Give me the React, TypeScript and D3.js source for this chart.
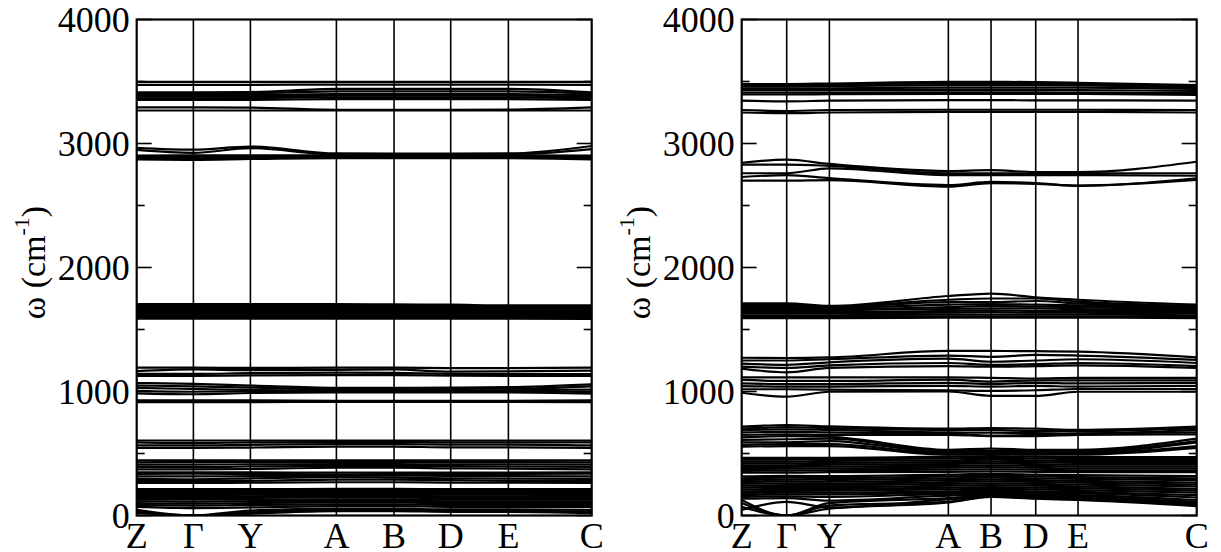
import React from "react";
import * as d3 from "d3";

// High-symmetry labels along the Brillouin-zone path
const kLabels = ["Z", "Γ", "Y", "A", "B", "D", "E", "C"];
// Cumulative path length (normalised) of each high-symmetry point
const leftPath = [0, 0.1246, 0.2499, 0.4389, 0.5656, 0.6901, 0.8169, 1];
const rightPath = [0, 0.0989, 0.1927, 0.4542, 0.548, 0.6462, 0.7392, 1];

const yMajor = [0, 1000, 2000, 3000, 4000];
const yMinor = [500, 1500, 2500, 3500];

// Phonon branches (cm^-1) sampled at Z, Γ, Y, A, B, D, E, C — left structure
const leftBands: number[][] = [
  [3497, 3497, 3497, 3497, 3497, 3497, 3497, 3497],
  [3473, 3473, 3473, 3475, 3475, 3475, 3475, 3473],
  [3412, 3412, 3415, 3440, 3440, 3440, 3440, 3412],
  [3402, 3402, 3405, 3420, 3420, 3420, 3420, 3402],
  [3390, 3390, 3392, 3398, 3398, 3398, 3398, 3390],
  [3378, 3378, 3380, 3385, 3385, 3385, 3385, 3378],
  [3365, 3365, 3366, 3372, 3372, 3372, 3372, 3365],
  [3352, 3352, 3352, 3358, 3358, 3358, 3358, 3352],
  [3292, 3292, 3290, 3272, 3272, 3272, 3274, 3292],
  [3266, 3266, 3266, 3266, 3266, 3266, 3266, 3266],

  [2965, 2950, 2975, 2920, 2918, 2918, 2920, 2980],
  [2948, 2925, 2962, 2912, 2912, 2912, 2912, 2955],
  [2902, 2905, 2905, 2905, 2906, 2906, 2905, 2902],
  [2892, 2890, 2895, 2898, 2898, 2898, 2898, 2893],
  [2882, 2878, 2885, 2890, 2890, 2890, 2890, 2883],
  [2872, 2868, 2875, 2882, 2882, 2882, 2882, 2872],

  [1705, 1705, 1705, 1705, 1702, 1700, 1695, 1695],
  [1695, 1695, 1695, 1697, 1695, 1692, 1685, 1688],
  [1685, 1685, 1685, 1688, 1686, 1684, 1672, 1675],
  [1672, 1672, 1672, 1675, 1673, 1672, 1665, 1665],
  [1660, 1660, 1660, 1662, 1660, 1660, 1655, 1650],
  [1648, 1648, 1648, 1650, 1648, 1648, 1645, 1640],
  [1636, 1636, 1636, 1638, 1636, 1636, 1634, 1630],
  [1624, 1624, 1624, 1625, 1624, 1624, 1622, 1618],
  [1612, 1612, 1612, 1612, 1612, 1612, 1610, 1605],
  [1600, 1600, 1600, 1600, 1600, 1600, 1598, 1595],
  [1588, 1588, 1588, 1588, 1588, 1588, 1588, 1585],

  [1192, 1192, 1190, 1192, 1192, 1188, 1188, 1192],
  [1165, 1178, 1172, 1175, 1178, 1160, 1162, 1168],
  [1142, 1142, 1148, 1152, 1150, 1142, 1140, 1140],
  [1126, 1126, 1130, 1132, 1132, 1128, 1126, 1126],

  [1068, 1062, 1048, 1030, 1030, 1032, 1035, 1058],
  [1048, 1042, 1032, 1018, 1018, 1020, 1022, 1042],
  [1030, 1020, 1012, 1008, 1008, 1008, 1010, 1015],
  [1005, 998, 1002, 1002, 1002, 1002, 1002, 995],
  [985, 978, 988, 992, 992, 992, 992, 982],
  [928, 928, 928, 925, 925, 925, 925, 928],
  [914, 914, 914, 917, 917, 917, 917, 914],

  [605, 605, 605, 605, 605, 605, 605, 605],
  [590, 585, 590, 592, 592, 590, 590, 590],
  [565, 565, 570, 575, 575, 572, 572, 565],
  [545, 545, 548, 555, 555, 550, 550, 545],

  [445, 445, 445, 445, 445, 445, 445, 445],
  [428, 430, 430, 432, 432, 430, 430, 428],
  [410, 410, 412, 415, 415, 412, 412, 410],
  [392, 390, 395, 400, 400, 398, 395, 392],
  [372, 372, 375, 385, 385, 380, 378, 372],

  [348, 348, 348, 345, 345, 345, 345, 348],
  [335, 338, 335, 330, 335, 335, 335, 338],
  [315, 315, 318, 320, 322, 320, 318, 315],
  [295, 292, 300, 310, 305, 300, 298, 295],
  [278, 280, 280, 290, 290, 285, 280, 278],
  [262, 262, 265, 268, 268, 265, 265, 262],

  [212, 212, 212, 215, 215, 212, 212, 212],
  [200, 200, 202, 205, 205, 202, 202, 200],
  [190, 190, 192, 195, 195, 192, 192, 190],
  [178, 178, 180, 182, 182, 180, 180, 178],
  [165, 165, 168, 170, 170, 168, 168, 165],
  [155, 152, 155, 158, 158, 155, 155, 155],
  [140, 140, 142, 145, 145, 140, 140, 140],
  [128, 130, 128, 130, 130, 128, 128, 128],
  [115, 112, 115, 118, 118, 115, 115, 115],
  [100, 95, 100, 105, 105, 100, 100, 100],
  [85, 80, 85, 90, 90, 85, 85, 85],
  [70, 60, 65, 75, 75, 70, 70, 70],
  [45, 0, 40, 55, 55, 50, 50, 45],
  [30, 0, 25, 45, 45, 40, 40, 30],
  [20, 0, 15, 35, 35, 30, 30, 20],
];

// Phonon branches (cm^-1) sampled at Z, Γ, Y, A, B, D, E, C — right structure
const rightBands: number[][] = [
  [3480, 3480, 3484, 3497, 3497, 3495, 3490, 3470],
  [3470, 3470, 3475, 3485, 3485, 3485, 3480, 3462],
  [3460, 3460, 3462, 3470, 3470, 3470, 3468, 3450],
  [3445, 3445, 3445, 3450, 3450, 3450, 3450, 3440],
  [3430, 3430, 3430, 3432, 3432, 3432, 3430, 3425],
  [3410, 3410, 3410, 3412, 3412, 3412, 3410, 3408],
  [3395, 3395, 3398, 3400, 3400, 3400, 3400, 3392],
  [3345, 3340, 3345, 3350, 3350, 3348, 3348, 3345],
  [3270, 3262, 3270, 3272, 3272, 3272, 3272, 3270],
  [3250, 3245, 3250, 3255, 3255, 3255, 3255, 3250],

  [2845, 2870, 2835, 2778, 2785, 2770, 2770, 2853],
  [2830, 2830, 2820, 2760, 2760, 2760, 2760, 2760],
  [2760, 2760, 2800, 2745, 2745, 2745, 2745, 2740],
  [2730, 2745, 2720, 2665, 2690, 2680, 2658, 2720],
  [2700, 2700, 2705, 2652, 2680, 2675, 2660, 2706],

  [1710, 1710, 1690, 1770, 1790, 1760, 1740, 1700],
  [1700, 1700, 1685, 1740, 1750, 1750, 1725, 1690],
  [1690, 1695, 1680, 1720, 1720, 1730, 1710, 1680],
  [1680, 1680, 1675, 1700, 1705, 1700, 1695, 1670],
  [1665, 1665, 1665, 1680, 1690, 1685, 1680, 1660],
  [1650, 1650, 1655, 1665, 1670, 1670, 1665, 1650],
  [1640, 1640, 1640, 1650, 1655, 1650, 1650, 1640],
  [1630, 1630, 1630, 1635, 1640, 1635, 1635, 1630],
  [1615, 1615, 1615, 1620, 1620, 1620, 1620, 1615],
  [1600, 1600, 1600, 1605, 1605, 1605, 1605, 1600],
  [1592, 1592, 1592, 1595, 1595, 1595, 1595, 1592],

  [1272, 1270, 1275, 1327, 1327, 1325, 1322, 1275],
  [1250, 1250, 1260, 1290, 1280, 1295, 1290, 1255],
  [1225, 1215, 1235, 1265, 1240, 1250, 1260, 1230],
  [1200, 1190, 1210, 1230, 1215, 1220, 1230, 1205],
  [1185, 1155, 1190, 1205, 1200, 1205, 1210, 1190],

  [1114, 1114, 1114, 1114, 1110, 1105, 1110, 1110],
  [1093, 1085, 1085, 1095, 1080, 1090, 1090, 1090],
  [1066, 1060, 1060, 1070, 1060, 1070, 1065, 1070],
  [1044, 1040, 1040, 1045, 1040, 1045, 1040, 1045],
  [1018, 1018, 1015, 1010, 1005, 1010, 1020, 1020],
  [990, 958, 998, 1000, 965, 965, 998, 998],

  [716, 730, 718, 700, 705, 700, 690, 716],
  [700, 712, 705, 690, 690, 680, 680, 705],
  [690, 695, 690, 670, 668, 665, 660, 690],
  [670, 675, 670, 660, 645, 650, 660, 670],
  [650, 655, 650, 650, 640, 640, 650, 655],
  [630, 640, 635, 530, 540, 530, 530, 620],
  [610, 615, 620, 520, 520, 520, 520, 600],
  [590, 590, 600, 510, 510, 510, 510, 590],
  [570, 575, 575, 500, 500, 500, 500, 560],
  [555, 560, 560, 490, 495, 490, 490, 545],

  [465, 465, 465, 475, 480, 475, 470, 470],
  [450, 450, 452, 460, 465, 460, 455, 455],
  [435, 435, 440, 445, 450, 445, 440, 440],
  [420, 420, 425, 430, 435, 430, 425, 425],
  [405, 405, 410, 415, 420, 415, 410, 410],
  [390, 392, 395, 400, 405, 400, 395, 395],
  [375, 378, 380, 385, 390, 385, 380, 380],
  [360, 362, 365, 370, 372, 370, 365, 365],
  [345, 345, 350, 352, 355, 352, 350, 350],

  [315, 320, 318, 330, 335, 330, 325, 318],
  [300, 305, 302, 315, 320, 315, 310, 300],
  [285, 290, 288, 300, 305, 300, 295, 285],
  [270, 275, 272, 285, 290, 285, 280, 265],
  [255, 260, 258, 270, 275, 270, 265, 250],
  [240, 245, 245, 255, 260, 255, 250, 235],
  [225, 230, 230, 240, 245, 240, 235, 215],
  [210, 215, 215, 225, 230, 225, 220, 200],
  [195, 198, 200, 210, 215, 210, 205, 185],
  [180, 185, 185, 195, 200, 195, 190, 165],
  [165, 170, 170, 185, 190, 182, 178, 145],
  [150, 155, 150, 175, 180, 170, 165, 125],
  [135, 140, 120, 160, 170, 160, 155, 110],
  [125, 0, 100, 140, 160, 150, 145, 100],
  [100, 0, 80, 110, 155, 140, 130, 85],
  [70, 0, 55, 105, 150, 135, 125, 75],
  [45, 110, 65, 130, 152, 142, 135, 95],
];

const W = 1221;
const H = 552;
const PANEL_W = 455;
const TOP = 19.5;
const BOTTOM = 515.5;
const FONT = "'Liberation Serif', 'Times New Roman', Times, serif";

type PanelProps = { x0: number; path: number[]; bands: number[][]; id: string };

function Panel({ x0, path, bands, id }: PanelProps) {
  const x = d3.scaleLinear().domain([0, 1]).range([x0, x0 + PANEL_W]);
  const y = d3.scaleLinear().domain([0, 4000]).range([BOTTOM, TOP]);
  const line = d3
    .line<number>()
    .x((_, i) => x(path[i]))
    .y((d) => y(d))
    .curve(d3.curveMonotoneX);

  return (
    <g>
      <defs>
        <clipPath id={id}>
          <rect x={x0} y={TOP} width={PANEL_W} height={BOTTOM - TOP} />
        </clipPath>
      </defs>
      <g clipPath={`url(#${id})`}>
        {bands.map((b, i) => (
          <path key={i} d={line(b) ?? ""} fill="none" stroke="#000" strokeWidth={2.2} />
        ))}
      </g>
      {path.slice(1, -1).map((p, i) => (
        <line key={i} x1={x(p)} x2={x(p)} y1={TOP} y2={BOTTOM} stroke="#000" strokeWidth={1.6} />
      ))}
      {yMajor.map((v) => (
        <g key={v}>
          <line x1={x0} x2={x0 + 15} y1={y(v)} y2={y(v)} stroke="#000" strokeWidth={1.6} />
          <line x1={x0 + PANEL_W - 15} x2={x0 + PANEL_W} y1={y(v)} y2={y(v)} stroke="#000" strokeWidth={1.6} />
          <text
            x={x0 - 7}
            y={y(v)}
            dy="0.35em"
            textAnchor="end"
            fontFamily={FONT}
            fontSize={36}
          >
            {v}
          </text>
        </g>
      ))}
      {yMinor.map((v) => (
        <g key={v}>
          <line x1={x0} x2={x0 + 8} y1={y(v)} y2={y(v)} stroke="#000" strokeWidth={1.6} />
          <line x1={x0 + PANEL_W - 8} x2={x0 + PANEL_W} y1={y(v)} y2={y(v)} stroke="#000" strokeWidth={1.6} />
        </g>
      ))}
      <rect
        x={x0}
        y={TOP}
        width={PANEL_W}
        height={BOTTOM - TOP}
        fill="none"
        stroke="#000"
        strokeWidth={2.2}
      />
      {kLabels.map((k, i) => (
        <text
          key={k}
          x={x(path[i])}
          y={548}
          textAnchor="middle"
          fontFamily={FONT}
          fontSize={36}
        >
          {k}
        </text>
      ))}
      <text
        transform={`translate(${x0 - 92},${(TOP + BOTTOM) / 2 - 5}) rotate(-90)`}
        textAnchor="middle"
        fontFamily={FONT}
        fontSize={34}
      >
        ω (cm
        <tspan fontSize={22} dy={-16}>
          -1
        </tspan>
        <tspan dy={16}>)</tspan>
      </text>
    </g>
  );
}

export default function App() {
  return (
    <svg
      width={W}
      height={H}
      style={{ position: "absolute", left: 0, top: 0, background: "#fff", display: "block" }}
    >
      <rect width={W} height={H} fill="#fff" />
      <Panel x0={136.7} path={leftPath} bands={leftBands} id="clip-left" />
      <Panel x0={741.7} path={rightPath} bands={rightBands} id="clip-right" />
    </svg>
  );
}
